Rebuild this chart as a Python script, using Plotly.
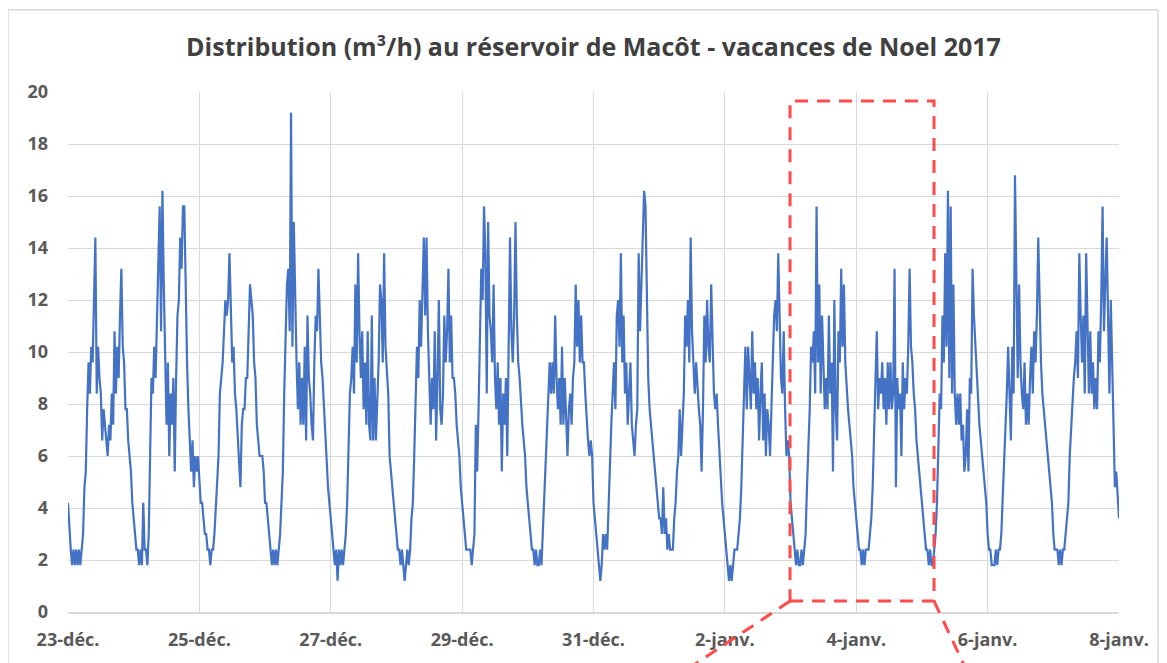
import pandas as pd
import plotly.graph_objects as go

# Half-hourly flow values (m3/h), one list per day
d_23dec = [4.2,3.0, 2.4,1.8, 2.4,1.8, 2.4,1.8, 2.4,1.8, 2.4,3.0, 4.8,5.4, 7.8,9.6, 8.4,10.2, 9.6,12.0, 14.4,8.4, 10.2,9.0,
           8.4,6.6, 7.8,7.2, 6.6,6.0, 7.2,6.6, 8.4,7.2, 10.8,8.4, 10.2,9.0, 11.4,13.2, 10.2,9.6, 7.8,7.8, 6.6,6.0, 5.4,4.2]
d_24dec = [3.6,3.0, 2.4,2.4, 1.8,2.4, 1.8,4.2, 2.4,2.4, 1.8,3.0, 6.0,9.0, 8.4,10.2, 9.0,11.4, 13.2,15.6, 10.8,16.2, 12.6,9.0,
           7.2,9.6, 6.0,8.4, 7.2,9.0, 5.4,9.0, 11.4,12.0, 14.4,13.2, 15.6,15.6, 12.0,9.6, 7.8,6.6, 5.4,6.6, 4.8,6.0, 5.4,6.0]
d_25dec = [4.8,4.2, 4.2,3.6, 3.0,3.0, 2.4,2.4, 1.8,2.4, 2.4,3.0, 4.2,4.8, 6.0,8.4, 9.0,9.6, 10.8,12.0, 11.4,12.0, 13.8,11.4,
           9.6,10.2, 8.4,7.8, 6.6,6.0, 4.8,7.2, 7.8,7.8, 9.0,9.0, 10.8,12.6, 12.0,11.4, 9.6,9.0, 7.2,6.6, 6.0,6.0, 6.0,5.4]
d_26dec = [4.2,4.2, 3.6,3.0, 2.4,1.8, 2.4,1.8, 2.4,1.8, 2.4,3.0, 4.2,5.4, 8.4,10.8, 12.6,13.2, 10.8,19.2, 10.2,15.0, 12.0,9.6,
           7.8,9.6, 7.2,9.0, 7.2,10.2, 6.6,11.4, 9.0,8.4, 7.2,6.6, 9.6,11.4, 10.8,13.2, 11.4,9.6, 9.0,7.8, 6.6,6.0, 4.8,4.2]
d_27dec = [3.6,3.0, 2.4,1.8, 2.4,1.2, 2.4,1.8, 2.4,1.8, 2.4,3.0, 4.2,6.0, 8.4,9.0, 10.2,8.4, 12.6,9.6, 13.8,10.8, 9.0,10.8,
           7.8,9.6, 7.2,10.8, 7.2,6.6, 11.4,6.6, 9.0,6.6, 8.4,9.6, 12.6,12.0, 9.6,13.8, 10.2,9.0, 8.4,6.0, 5.4,4.8, 4.2,3.6]
d_28dec = [3.0,2.4, 2.4,1.8, 2.4,1.8, 1.2,1.8, 2.4,1.8, 2.4,3.6, 4.2,6.0, 8.4,10.2, 9.0,12.0, 10.2,12.6, 14.4,11.4, 14.4,10.8,
           9.0,7.2, 9.0,7.8, 10.8,6.6, 9.0,12.0, 7.8,7.2, 8.4,11.4, 9.6,10.8, 13.2,9.6, 11.4,9.0, 9.0,8.4, 7.2,6.6, 6.0,4.8]
d_29dec = [4.2,3.6, 3.0,2.4, 2.4,2.4, 2.4,1.8, 2.4,3.0, 7.2,5.4, 7.8,10.8, 13.2,12.0, 15.6,13.8, 8.4,15.0, 11.4,10.8, 9.6,12.6,
           9.0,7.8, 9.6,7.2, 9.0,5.4, 8.4,7.2, 9.0,6.0, 11.4,14.4, 10.8,9.6, 11.4,15.0, 11.4,9.6, 9.0,7.8, 7.2,6.6, 6.0,4.8]
d_30dec = [4.2,3.6, 3.0,2.4, 2.4,1.8, 2.4,1.8, 1.8,2.4, 1.8,3.0, 4.2,6.0, 6.6,7.8, 9.6,8.4, 9.6,8.4, 11.4,9.0, 7.8,9.0,
           7.2,10.2, 7.2,9.0, 7.8,6.0, 7.8,8.4, 7.2,9.0, 9.6,12.6, 10.2,12.0, 9.6,11.4, 9.6,9.6, 8.4,7.2, 6.6,6.0, 6.6,6.0]
d_31dec = [4.2,3.6, 3.0,2.4, 1.8,1.2, 1.8,3.0, 2.4,3.0, 2.4,4.2, 6.0,7.2, 8.4,9.6, 7.8,11.4, 12.0,10.2, 13.8,9.6, 11.4,8.4,
           9.6,7.2, 8.4,9.6, 7.2,6.6, 6.0,7.2, 7.8,13.8, 10.8,12.6, 14.4,16.2, 15.6,12.0, 9.0,7.8, 7.2,6.6, 6.0,5.4, 4.8,4.2]
d_01jan = [3.6,3.6, 3.0,4.8, 3.0,3.6, 2.4,3.0, 2.4,2.4, 2.4,3.6, 4.2,5.4, 6.0,7.8, 6.0,7.2, 8.4,11.4, 10.2,12.0, 9.6,14.4,
           10.8,9.6, 8.4,9.6, 8.4,7.8, 7.2,5.4, 7.8,11.4, 9.6,12.0, 10.2,9.6, 12.6,10.2, 8.4,7.8, 8.4,7.2, 6.0,4.8, 4.2,3.6]
d_02jan = [3.0,2.4, 1.8,1.2, 1.8,1.2, 1.8,2.4, 2.4,2.4, 3.0,3.6, 4.8,6.6, 8.4,10.2, 7.8,10.2, 9.0,7.8, 10.8,8.4, 9.6,7.8,
           9.0,6.6, 8.4,9.6, 6.6,8.4, 6.0,7.8, 7.2,6.0, 7.8,9.6, 11.4,12.0, 10.8,13.8, 11.4,9.0, 8.4,10.8, 7.8,6.0, 6.6,6.0]
d_03jan = [4.2,3.6, 3.0,2.4, 1.8,2.4, 1.8,1.8, 2.4,1.8, 2.4,3.0, 4.8,6.0, 7.8,10.2, 9.6,10.8, 8.4,15.6, 9.6,12.6, 8.4,11.4,
           9.0,7.8, 9.0,7.8, 11.4,8.4, 9.6,5.4, 12.0,7.8, 6.6,10.8, 9.6,13.2, 10.2,12.6, 9.6,8.4, 7.8,7.2, 6.6,6.0, 4.8,4.2]
d_04jan = [3.6,3.0, 2.4,2.4, 1.8,2.4, 1.8,2.4, 2.4,2.4, 3.0,3.6, 4.8,6.6, 8.4,10.8, 7.8,9.0, 8.4,9.6, 7.8,9.0, 7.2,9.6,
           7.8,9.6, 7.8,8.4, 13.2,4.8, 9.0,7.8, 8.4,6.0, 9.6,7.8, 9.0,8.4, 10.2,13.2, 10.2,9.6, 8.4,7.8, 6.6,6.0, 5.4,4.8]
d_05jan = [4.2,3.6, 3.0,2.4, 2.4,1.8, 2.4,1.8, 1.8,2.4, 3.0,4.2, 6.0,8.4, 7.8,11.4, 9.6,13.8, 10.2,16.2, 9.0,15.6, 8.4,12.6,
           8.4,7.2, 8.4,7.2, 8.4,6.6, 7.2,5.4, 6.0,7.8, 5.4,9.0, 8.4,13.2, 11.4,10.2, 9.0,7.8, 7.2,6.6, 6.0,5.4, 4.8,4.2]
d_06jan = [3.0,2.4, 2.4,1.8, 1.8,1.8, 2.4,1.8, 2.4,2.4, 3.0,4.2, 6.0,7.2, 8.4,10.2, 8.4,6.6, 10.2,8.4, 16.8,13.2, 9.0,12.6,
           9.6,8.4, 7.8,9.6, 7.2,8.4, 7.2,9.0, 10.2,8.4, 10.8,9.6, 11.4,14.4, 11.4,9.6, 8.4,7.8, 7.2,6.6, 6.0,5.4, 4.8,4.2]
d_07jan = [3.0,2.4, 2.4,2.4, 1.8,2.4, 1.8,2.4, 2.4,3.0, 3.6,4.2, 6.0,7.2, 8.4,9.0, 9.6,10.8, 9.0,13.8, 11.4,9.6, 11.4,8.4,
           13.8,10.2, 8.4,10.8, 8.4,9.6, 7.8,9.0, 7.8,10.8, 9.6,12.0, 15.6,10.8, 12.6,14.4, 11.4,8.4, 12.0,9.6, 6.6,4.8, 5.4,4.2]
d_08jan = [3.6]

days = [d_23dec, d_24dec, d_25dec, d_26dec, d_27dec, d_28dec, d_29dec, d_30dec,
        d_31dec, d_01jan, d_02jan, d_03jan, d_04jan, d_05jan, d_06jan, d_07jan, d_08jan]
flow = [v for d in days for v in d]
times = pd.date_range("2017-12-23 00:00", periods=len(flow), freq="30min")

tick_vals = pd.date_range("2017-12-23", "2018-01-08", freq="2D")
tick_text = ["23-déc.", "25-déc.", "27-déc.", "29-déc.", "31-déc.",
             "2-janv.", "4-janv.", "6-janv.", "8-janv."]

title_text = "Distribution (m³/h) au réservoir de Macôt - vacances de Noel 2017"

fig = go.Figure()
fig.add_trace(go.Scatter(x=times, y=flow, mode="lines",
                         line=dict(color="#4472C4", width=2.2),
                         hoverinfo="x+y", showlegend=False))

grid = "#D9D9D9"
tickfont = dict(family="Open Sans", size=18, color="#595959", weight="bold")
fig.update_layout(
    width=1159, height=655,
    margin=dict(l=60, r=48, t=84, b=51),
    paper_bgcolor="white", plot_bgcolor="white",
    title=dict(text=title_text, x=0.5, xref="paper", xanchor="center",
               y=0.94, yref="container", yanchor="middle",
               font=dict(family="Open Sans", size=25, color="#404040", weight="bold")),
    xaxis=dict(type="date", range=["2017-12-23", "2018-01-08"],
               tickmode="array", tickvals=tick_vals, ticktext=tick_text,
               showgrid=True, gridcolor=grid, gridwidth=1,
               showline=True, linecolor=grid, linewidth=1.5,
               ticks="", tickfont=tickfont, ticklabelstandoff=11, zeroline=False),
    yaxis=dict(range=[0, 20], dtick=2, tick0=0,
               showgrid=True, gridcolor=grid, gridwidth=1,
               showline=False, zeroline=False,
               ticks="", tickfont=tickfont, ticklabelstandoff=19),
)

# Chart-area border (Excel style)
border = dict(color="#D9D9D9", width=1.5)
fig.add_shape(type="line", xref="paper", yref="paper", x0=-0.0571, x1=-0.0571, y0=1.158, y1=-0.2, line=border)
fig.add_shape(type="line", xref="paper", yref="paper", x0=-0.0571, x1=1.0371, y0=1.158, y1=1.158, line=border)
fig.add_shape(type="line", xref="paper", yref="paper", x0=1.0371, x1=1.0371, y0=1.158, y1=-0.2, line=border)

# Red dashed zoom frame
red = dict(color="#FF4B4B", width=3, dash="13px,9px")
fig.add_shape(type="rect", xref="x domain", yref="y domain",
              x0=0.687, x1=0.824, y0=0.021, y1=0.9825, line=red, fillcolor="rgba(0,0,0,0)")
fig.add_shape(type="line", xref="x domain", yref="y domain",
              x0=0.687, y0=0.021, x1=0.584, y1=-0.117, line=red)
fig.add_shape(type="line", xref="x domain", yref="y domain",
              x0=0.824, y0=0.021, x1=0.856, y1=-0.117, line=red)

fig.write_html("out.html")
